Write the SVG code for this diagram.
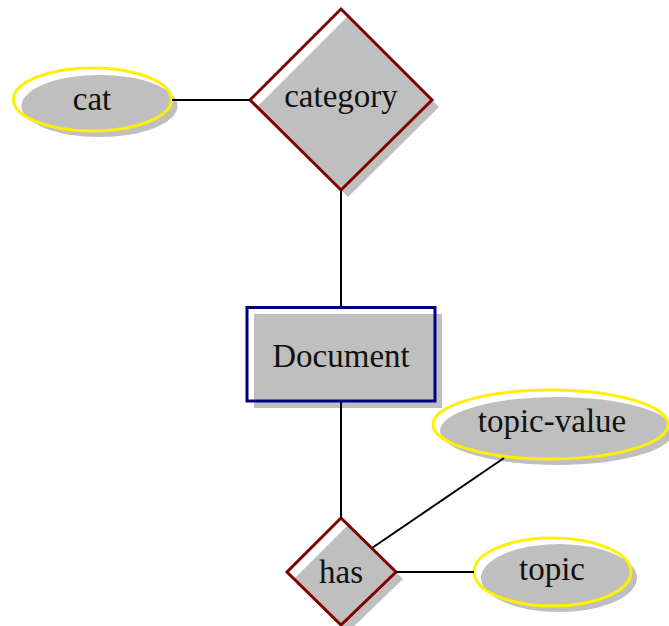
<svg xmlns="http://www.w3.org/2000/svg" width="669" height="626" viewBox="0 0 669 626">
  <style>
    .shadow { fill: #bfbfbf; stroke: none; }
    .attr { fill: none; stroke: #fff000; stroke-width: 3; }
    .rel { fill: none; stroke: #800000; stroke-width: 3; stroke-linejoin: miter; }
    .ent { fill: none; stroke: #000080; stroke-width: 3; }
    .label { font-family: "Liberation Serif", "DejaVu Serif", serif; font-size: 33px; fill: #111; text-anchor: middle; }
    .edge { stroke: #000; stroke-width: 2; fill: none; }
  </style>

  <!-- attribute: cat -->
  <g id="cat">
    <ellipse class="shadow" cx="99.5" cy="106" rx="78" ry="31"/>
    <ellipse class="attr" cx="92.5" cy="99.5" rx="79" ry="31.5"/>
    <text class="label" x="92" y="110">cat</text>
  </g>

  <!-- relationship: category -->
  <g id="category">
    <polygon class="shadow" points="348,16 439,107 348,197 257,107"/>
    <polygon class="rel" points="341,9 432,100 341,190 250,100"/>
    <text class="label" x="341" y="107">category</text>
  </g>

  <!-- entity: Document -->
  <g id="Document">
    <rect class="shadow" x="254" y="314" width="188" height="94"/>
    <rect class="ent" x="247" y="307.5" width="188" height="93.5"/>
    <text class="label" x="341" y="367">Document</text>
  </g>

  <!-- relationship: has -->
  <g id="has">
    <polygon class="shadow" points="348,525 403,579 348,632 294,579"/>
    <polygon class="rel" points="341,518 396,572 341,625 287,572"/>
    <text class="label" x="341" y="583">has</text>
  </g>

  <!-- attribute: topic-value -->
  <g id="topic-value">
    <ellipse class="shadow" cx="557" cy="431" rx="117" ry="34"/>
    <ellipse class="attr" cx="550.5" cy="424.5" rx="117.5" ry="34.5"/>
    <text class="label" x="552" y="432">topic-value</text>
  </g>

  <!-- attribute: topic -->
  <g id="topic">
    <ellipse class="shadow" cx="559" cy="578" rx="78" ry="34"/>
    <ellipse class="attr" cx="552.5" cy="572" rx="78.5" ry="34"/>
    <text class="label" x="552" y="580">topic</text>
  </g>

  <!-- connectors -->
  <g id="edges">
    <line class="edge" x1="172" y1="100" x2="250" y2="100"/>
    <line class="edge" x1="341" y1="190" x2="341" y2="307"/>
    <line class="edge" x1="341" y1="401" x2="341" y2="518"/>
    <line class="edge" x1="372" y1="548" x2="504" y2="458"/>
    <line class="edge" x1="396" y1="572" x2="474" y2="572"/>
  </g>
</svg>
